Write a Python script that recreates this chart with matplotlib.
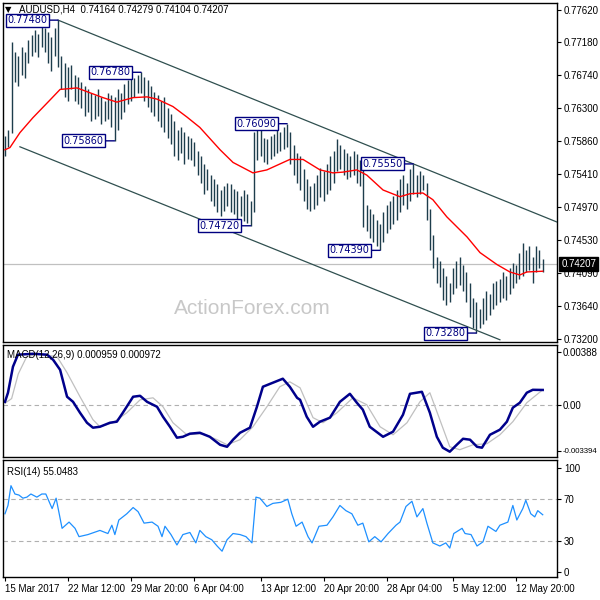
import numpy as np
import matplotlib.pyplot as plt
from matplotlib.transforms import blended_transform_factory

plt.rcParams['font.family'] = ['Liberation Sans', 'DejaVu Sans']

# ---- AUDUSD H4 bars (high / low), bar index 0..162
highs = [0.7592, 0.7600, 0.7719, 0.7705, 0.7700, 0.7712, 0.7705, 0.7722, 0.7728, 0.7735,
         0.7730, 0.7740, 0.7738, 0.7732, 0.7725, 0.7738, 0.7748, 0.7700, 0.7690, 0.7685,
         0.7688, 0.7675, 0.7672, 0.7665, 0.7660, 0.7655, 0.7650, 0.7648, 0.7655, 0.7645,
         0.7640, 0.7650, 0.7648, 0.7645, 0.7655, 0.7650, 0.7662, 0.7668, 0.7672, 0.7670,
         0.7675, 0.7678, 0.7672, 0.7668, 0.7660, 0.7652, 0.7648, 0.7640, 0.7645, 0.7630,
         0.7622, 0.7612, 0.7600, 0.7605, 0.7598, 0.7592, 0.7590, 0.7585, 0.7572, 0.7565,
         0.7555, 0.7548, 0.7540, 0.7535, 0.7528, 0.7520, 0.7525, 0.7530, 0.7528, 0.7522,
         0.7518, 0.7512, 0.7520, 0.7515, 0.7505, 0.7598, 0.7602, 0.7600, 0.7590, 0.7588,
         0.7592, 0.7595, 0.7600, 0.7598, 0.7605, 0.7609, 0.7598, 0.7580, 0.7570, 0.7565,
         0.7548, 0.7535, 0.7525, 0.7530, 0.7540, 0.7550, 0.7545, 0.7555, 0.7565, 0.7572,
         0.7588, 0.7580, 0.7575, 0.7570, 0.7565, 0.7572, 0.7568, 0.7560, 0.7555, 0.7500,
         0.7495, 0.7488, 0.7480, 0.7475, 0.7490, 0.7500, 0.7505, 0.7512, 0.7520, 0.7535,
         0.7540, 0.7530, 0.7548, 0.7555, 0.7540, 0.7545, 0.7540, 0.7530, 0.7495, 0.7460,
         0.7430, 0.7425, 0.7415, 0.7405, 0.7395, 0.7415, 0.7425, 0.7430, 0.7420, 0.7410,
         0.7395, 0.7375, 0.7370, 0.7360, 0.7375, 0.7385, 0.7380, 0.7395, 0.7398, 0.7400,
         0.7410, 0.7405, 0.7415, 0.7422, 0.7420, 0.7435, 0.7449, 0.7440, 0.7445, 0.7430,
         0.7445, 0.7440, 0.7428]
lows = [0.7566, 0.7578, 0.7596, 0.7665, 0.7660, 0.7675, 0.7670, 0.7690, 0.7700, 0.7705,
        0.7698, 0.7712, 0.7705, 0.7690, 0.7680, 0.7700, 0.7685, 0.7655, 0.7645, 0.7640,
        0.7655, 0.7640, 0.7635, 0.7630, 0.7620, 0.7625, 0.7612, 0.7615, 0.7620, 0.7608,
        0.7612, 0.7615, 0.7605, 0.7586, 0.7600, 0.7615, 0.7625, 0.7635, 0.7640, 0.7645,
        0.7650, 0.7650, 0.7640, 0.7632, 0.7625, 0.7620, 0.7612, 0.7605, 0.7598, 0.7590,
        0.7582, 0.7565, 0.7560, 0.7570, 0.7555, 0.7562, 0.7560, 0.7552, 0.7540, 0.7530,
        0.7515, 0.7520, 0.7505, 0.7498, 0.7490, 0.7485, 0.7492, 0.7498, 0.7490, 0.7488,
        0.7480, 0.7485, 0.7478, 0.7476, 0.7472, 0.7490, 0.7560, 0.7565, 0.7558, 0.7555,
        0.7562, 0.7565, 0.7570, 0.7572, 0.7575, 0.7578, 0.7555, 0.7540, 0.7530, 0.7520,
        0.7505, 0.7495, 0.7492, 0.7495, 0.7500, 0.7510, 0.7505, 0.7515, 0.7520, 0.7530,
        0.7545, 0.7548, 0.7540, 0.7535, 0.7538, 0.7540, 0.7530, 0.7525, 0.7470, 0.7465,
        0.7455, 0.7450, 0.7445, 0.7439, 0.7450, 0.7462, 0.7468, 0.7475, 0.7480, 0.7490,
        0.7500, 0.7495, 0.7505, 0.7515, 0.7510, 0.7515, 0.7520, 0.7480, 0.7440, 0.7415,
        0.7395, 0.7390, 0.7372, 0.7365, 0.7370, 0.7380, 0.7388, 0.7392, 0.7385, 0.7370,
        0.7350, 0.7335, 0.7328, 0.7335, 0.7340, 0.7345, 0.7352, 0.7360, 0.7365, 0.7370,
        0.7375, 0.7372, 0.7380, 0.7388, 0.7395, 0.7400, 0.7405, 0.7410, 0.7412, 0.7395,
        0.7410, 0.7415, 0.7410]
last_close = 0.74207

# moving average (red), read at points along the line
ma_idx = [0, 1.5, 4.5, 8.4, 13.6, 16.6, 21.7, 24.7, 29.5, 33.7, 38.6, 42.8, 45.8, 50.6,
          54.8, 58.7, 64.8, 68.7, 74.7, 78.9, 85.8, 89.8, 94.9, 98.8, 101.8, 106.0, 109.0,
          113.9, 119.0, 122.0, 125.9, 128.9, 133.1, 139.2, 143.1, 148.2, 152.1, 155.1,
          157.2, 162]
ma_val = [0.7574, 0.7577, 0.7597, 0.7617, 0.7641, 0.7655, 0.7657, 0.7652, 0.7644, 0.7638,
          0.7644, 0.7645, 0.7642, 0.7632, 0.7618, 0.7604, 0.7574, 0.7557, 0.7543, 0.7547,
          0.7561, 0.7561, 0.7547, 0.7543, 0.7544, 0.7547, 0.7540, 0.7520, 0.7511, 0.7515,
          0.7516, 0.7507, 0.7484, 0.7457, 0.7436, 0.7420, 0.7410, 0.7406, 0.7410, 0.7411]

# swing labels: bar index, price
swing_idx = [16, 41, 33, 85, 74, 123, 113, 142]
swing_val = [0.7748, 0.7678, 0.7586, 0.7609, 0.7472, 0.7555, 0.7439, 0.7328]

# channel lines (two anchor points each)
upper_idx = [16, 166.3]
upper_val = [0.7748, 0.7477]
lower_idx = [4.5, 149.1]
lower_val = [0.7578, 0.7319]

# MACD(12,26,9)
macd_idx = [0, 0.9, 2.4, 3.9, 8.4, 12.7, 14.5, 16.6, 18.7, 20.5,
            22.6, 24.7, 26.5, 28.6, 31.6, 33.7, 35.5, 38.6, 40.7, 42.8,
            45.8, 47.6, 49.7, 51.8, 53.6, 55.7, 58.7, 61.7, 64.8, 66.9,
            68.7, 70.8, 73.8, 75.9, 77.7, 80.7, 83.7, 85.8, 88.0, 88.9,
            90.9, 92.8, 94.9, 97.9, 100.9, 103.9, 106.0, 107.8, 109.9, 113.9,
            116.9, 119.9, 122.0, 125.6, 128.0, 130.1, 131.9, 134.0, 136.1, 138.0,
            140.1, 142.2, 143.7, 146.1, 149.1, 151.2, 153.0, 155.1, 157.2, 159.0,
            162]
macd_val = [0.00019, 0.00078, 0.00247, 0.00325, 0.00331, 0.00325, 0.00292, 0.00227, 0.00052, 0.00019,
            -0.00052, -0.00117, -0.00149, -0.00143, -0.00117, -0.00110, -0.00052, 0.00052, 0.00058, 0.00019,
            -0.00013, -0.00078, -0.00143, -0.00214, -0.00208, -0.00188, -0.00182, -0.00208, -0.00260, -0.00273,
            -0.00227, -0.00182, -0.00149, -0.00013, 0.00117, 0.00143, 0.00169, 0.00117, 0.00045, 0.00032,
            -0.00078, -0.00143, -0.00110, -0.00084, 0.00019, 0.00071, 0.00013, -0.00032, -0.00143, -0.00208,
            -0.00175, -0.00065, 0.00071, 0.00084, -0.00052, -0.00208, -0.00279, -0.00305, -0.00260, -0.00221,
            -0.00227, -0.00273, -0.00279, -0.00195, -0.00162, -0.00110, -0.00019, 0.00013, 0.00078, 0.00097,
            0.00096]
signal_idx = [0, 2.0, 4.0, 6.5, 10.0, 15.7, 18.7, 22.6, 26.5, 28.6, 32.5, 36.7, 40.7, 44.6,
              47.6, 50.6, 54.8, 59.6, 63.9, 66.9, 70.8, 74.7, 78.9, 82.8, 85.8, 88.9, 92.8,
              95.8, 100.0, 104.8, 109.0, 113.0, 116.9, 121.1, 125.0, 128.0, 131.0, 134.0,
              137.0, 141.0, 145.2, 149.1, 153.0, 157.2, 162]
signal_val = [0.0001, 0.0004, 0.0020, 0.0031, 0.0033, 0.00312, 0.00208, 0.00052, -0.00097,
              -0.00143, -0.00117, -0.00052, 0.00032, 0.00045, -0.00013, -0.00117, -0.00195,
              -0.00188, -0.00227, -0.00260, -0.00227, -0.00143, -0.00013, 0.00117, 0.00149,
              0.00110, -0.00084, -0.00117, -0.00052, 0.00045, 0.0, -0.00143, -0.00195,
              -0.00117, 0.00019, 0.00078, -0.00097, -0.00273, -0.00292, -0.00260, -0.00253,
              -0.00195, -0.00110, 0.00013, 0.00097]

# RSI(14)
rsi_idx = [0, 0.9, 1.8, 3.0, 4.2, 5.4, 6.6, 7.8, 9.6, 11.1,
           12.3, 14.2, 15.4, 17.2, 19.3, 21.1, 22.3, 25.0, 28.6, 31.0,
           32.2, 33.1, 34.3, 36.7, 38.6, 40.1, 41.9, 44.3, 46.1, 47.3,
           48.2, 50.0, 51.8, 53.6, 55.7, 57.5, 58.7, 60.5, 62.3, 63.9,
           65.4, 66.9, 68.7, 70.8, 72.6, 74.4, 75.6, 76.8, 78.9, 80.7,
           83.1, 85.2, 86.4, 87.7, 89.5, 91.3, 92.5, 94.6, 97.0, 98.8,
           100.9, 102.7, 104.5, 106.3, 107.8, 109.6, 111.4, 113.3, 115.4, 117.8,
           119.0, 120.8, 122.6, 124.1, 125.9, 127.1, 128.9, 131.0, 132.8, 134.0,
           135.2, 137.7, 138.6, 140.4, 142.2, 144.0, 145.5, 147.9, 149.1, 151.5,
           153.0, 154.2, 156.0, 156.9, 158.4, 159.6, 160.5, 162.0]
rsi_val = [56, 64, 83, 75, 74, 71, 72, 75, 72, 75,
           75, 61, 71, 42, 48, 42, 34, 36, 40, 37,
           45, 36, 50, 56, 62, 58, 47, 48, 44, 34,
           44, 36, 26, 36, 38, 28, 40, 34, 31, 25,
           20, 31, 37, 36, 34, 28, 72, 71, 63, 66,
           67, 70, 56, 44, 48, 34, 28, 44, 45, 53,
           64, 59, 56, 45, 47, 29, 34, 29, 37, 45,
           48, 63, 68, 53, 61, 47, 28, 25, 28, 23,
           37, 42, 37, 36, 25, 29, 44, 39, 45, 48,
           64, 50, 61, 69, 56, 53, 59, 55.0483]

price_ticks = [0.7762, 0.7718, 0.7674, 0.7630, 0.7586, 0.7541, 0.7497, 0.7453, 0.7409, 0.7364, 0.7320]
date_idx = [0, 19, 38, 57, 77, 96, 115, 135, 154]
date_labels = ['15 Mar 2017', '22 Mar 12:00', '29 Mar 20:00', '6 Apr 04:00', '13 Apr 12:00',
               '20 Apr 20:00', '28 Apr 04:00', '5 May 12:00', '12 May 20:00']

bar_col = '#1d3d4c'
navy = '#000080'

fig = plt.figure(figsize=(6, 6), dpi=100)
W = 600.0
def rect(top, bottom, left=3, right=557):
    return [left / W, 1 - bottom / W, (right - left) / W, (bottom - top) / W]

ax1 = fig.add_axes(rect(3, 342))
ax2 = fig.add_axes(rect(345, 457))
ax3 = fig.add_axes(rect(460, 577))

x = np.arange(len(highs))
for ax in (ax1, ax2, ax3):
    ax.set_xlim(-0.6, 166.3)
    ax.yaxis.tick_right()
    ax.tick_params(axis='y', direction='out', length=3, width=0.8, labelsize=7, pad=2)
    ax.tick_params(axis='x', bottom=False, labelbottom=False)
    for s in ax.spines.values():
        s.set_linewidth(1.0)
        s.set_color('black')

# main panel
ax1.set_ylim(0.7316, 0.7771)
ax1.axhline(last_close, color='#c0c0c0', lw=0.9, zorder=1)
ax1.vlines(x, lows, highs, color=bar_col, lw=1.0, zorder=2)
ax1.plot(ma_idx, ma_val, color='red', lw=1.0, zorder=3)
ax1.plot(upper_idx, upper_val, color='#2f4f4f', lw=0.9, zorder=3)
ax1.plot(lower_idx, lower_val, color='#2f4f4f', lw=0.9, zorder=3)
for bi, v in zip(swing_idx, swing_val):
    ax1.annotate('%.5f' % v, xy=(bi, v), xytext=(-11, 0), textcoords='offset pixels',
                 ha='right', va='center', fontsize=7, color=navy, family='DejaVu Sans',
                 bbox=dict(boxstyle='square,pad=0.15', fc='white', ec=navy, lw=1.0),
                 arrowprops=dict(arrowstyle='-', color=navy, lw=1.0, shrinkA=0, shrinkB=0),
                 zorder=5)
ax1.set_yticks(price_ticks)
ax1.set_yticklabels(['%.5f' % t for t in price_ticks])
tr = blended_transform_factory(ax1.transAxes, ax1.transData)
ax1.text(1.008, last_close, '%.5f' % last_close, transform=tr, ha='left', va='center',
         fontsize=7, color='white', clip_on=False, zorder=6,
         bbox=dict(boxstyle='square,pad=0.2', fc='black', ec='black'))

# MACD panel
ax2.set_ylim(-0.003394, 0.00388)
ax2.axhline(0, color='#b0b0b0', lw=0.8, ls=(0, (4, 3)))
ax2.plot(signal_idx, signal_val, color='#c0c0c0', lw=0.9)
ax2.plot(macd_idx, macd_val, color='#00008b', lw=1.8)
ax2.set_yticks([0.00344, 0.0, -0.00299])
ax2.set_yticklabels(['0.00388', '0.00', '-0.003394'])
ax2.tick_params(axis='y', pad=1)
ax2.get_yticklabels()[2].set_fontsize(5.6)
ax2.text(0.008, 0.915, 'MACD(12,26,9) 0.000959 0.000972', transform=ax2.transAxes,
         fontsize=7, va='center', ha='left')

# RSI panel
ax3.set_ylim(-4.8, 107.7)
for lvl in (30, 70):
    ax3.axhline(lvl, color='#b0b0b0', lw=0.8, ls=(0, (4, 3)))
ax3.plot(rsi_idx, rsi_val, color='#1e90ff', lw=0.9)
ax3.set_yticks([100, 70, 30, 0])
ax3.set_yticklabels(['100', '70', '30', '0'])
ax3.text(0.008, 0.9, 'RSI(14) 55.0483', transform=ax3.transAxes,
         fontsize=7, va='center', ha='left')
ax3.tick_params(axis='x', bottom=True, labelbottom=True, direction='out',
                length=3, width=0.8, labelsize=7, pad=2)
ax3.set_xticks(date_idx)
ax3.set_xticklabels(date_labels, ha='left')

# header + watermark
fig.text(5 / W, 1 - 10 / W, '\u25bc', fontsize=6, family='DejaVu Sans', va='center')
fig.text(19 / W, 1 - 10 / W, 'AUDUSD,H4  0.74164 0.74279 0.74104 0.74207',
         fontsize=7, va='center')
fig.text(252 / W, 1 - 308 / W, 'ActionForex.com', fontsize=15, color='#c8c8c8',
         ha='center', va='center')

fig.savefig('out.png', dpi=100)
